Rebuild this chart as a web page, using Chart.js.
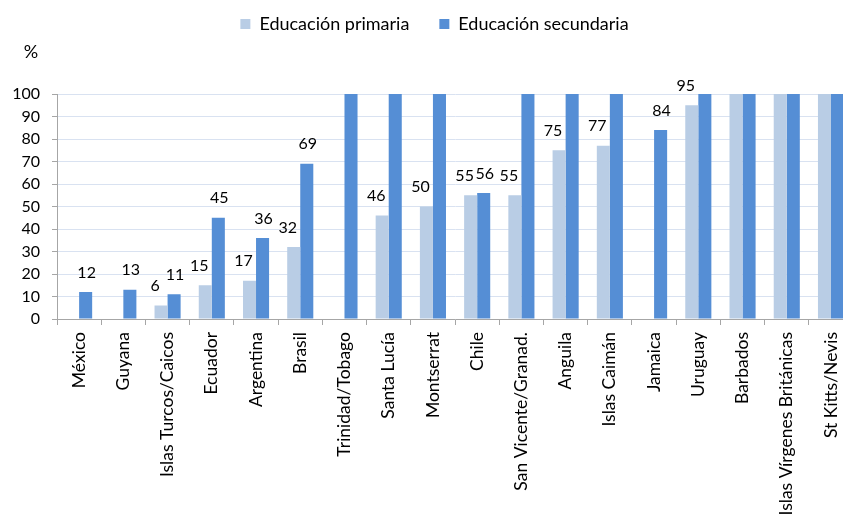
<!DOCTYPE html>
<html><head><meta charset="utf-8">
<style>
html,body{margin:0;padding:0;overflow:hidden;background:#fff;width:843px;height:518px}
#wrap{position:absolute;left:0;top:0;width:859px;height:545px}
</style>
<script src="https://cdn.jsdelivr.net/npm/chart.js@4"></script>
</head><body>
<div id="wrap"><canvas id="c" width="859" height="545"></canvas></div>
<script>
const categories = ["México","Guyana","Islas Turcos/Caicos","Ecuador","Argentina","Brasil","Trinidad/Tobago","Santa Lucía","Montserrat","Chile","San Vicente/Granad.","Anguila","Islas Caimán","Jamaica","Uruguay","Barbados","Islas Vírgenes Británicas","St Kitts/Nevis"];
const primaria = [null,null,6,15,17,32,null,46,50,55,55,75,77,null,95,100,100,100];
const secundaria = [12,13,11,45,36,69,100,100,100,56,100,100,100,84,100,100,100,100];
const seriesNames = ["Educación primaria","Educación secundaria"];
const yUnit = "%";

const FONT = 'Lato';
const labelShift = [-6, 1];

const legendSpacer = {
  id:'legendSpacer',
  beforeInit(chart){
    const fit = chart.legend.fit;
    chart.legend.fit = function(){ fit.call(this); this.height += 51; };
  },
  afterLayout(chart){
    chart.legend.left += 5;
    chart.legend.right += 5;
  }
};
const valueLabels = {
  id:'valueLabels',
  afterDatasetsDraw(chart){
    const ctx = chart.ctx;
    ctx.save();
    ctx.font = '16px ' + FONT;
    ctx.fillStyle = '#000';
    ctx.textAlign = 'center';
    ctx.textBaseline = 'middle';
    chart.data.datasets.forEach((ds,i)=>{
      const meta = chart.getDatasetMeta(i);
      meta.data.forEach((bar,j)=>{
        const v = ds.data[j];
        if (v == null || v >= 100) return;
        ctx.fillText(String(v), bar.x + labelShift[i], bar.y - 19.5);
      });
    });
    ctx.font = '18px ' + FONT;
    ctx.fillText(yUnit, 31, 52);
    ctx.restore();
  }
};

new Chart(document.getElementById('c'), {
  type:'bar',
  data:{
    labels: categories,
    datasets:[
      {label:seriesNames[0], data:primaria, backgroundColor:'#B9CDE5', borderWidth:0, categoryPercentage:0.59, barPercentage:1},
      {label:seriesNames[1], data:secundaria, backgroundColor:'#558ED5', borderWidth:0, categoryPercentage:0.59, barPercentage:1}
    ]
  },
  options:{
    responsive:false,
    animation:false,
    devicePixelRatio:1,
    layout:{padding:{top:-15,left:0,right:0,bottom:0}},
    plugins:{
      legend:{position:'top', labels:{boxWidth:10, boxHeight:10, padding:30, color:'#000', font:{family:FONT, size:18}}},
      tooltip:{enabled:false}
    },
    scales:{
      x:{
        grid:{display:true, drawOnChartArea:false, drawTicks:true, tickLength:6, tickColor:'#A6A6A6', offset:true},
        border:{display:true, color:'#A6A6A6', width:1},
        ticks:{autoSkip:false, minRotation:90, maxRotation:90, padding:7, color:'#000', font:{family:FONT, size:17.5}},
        afterFit(s){ s.height = 226; }
      },
      y:{
        min:0, max:100,
        grid:{color:'#D9E2F1', tickColor:'#A6A6A6', tickLength:5},
        border:{display:true, color:'#A6A6A6', width:1},
        ticks:{stepSize:10, padding:12, color:'#000', font:{family:FONT, size:16}},
        afterFit(s){ s.width = 57; }
      }
    }
  },
  plugins:[legendSpacer, valueLabels]
});
</script>
</body></html>
